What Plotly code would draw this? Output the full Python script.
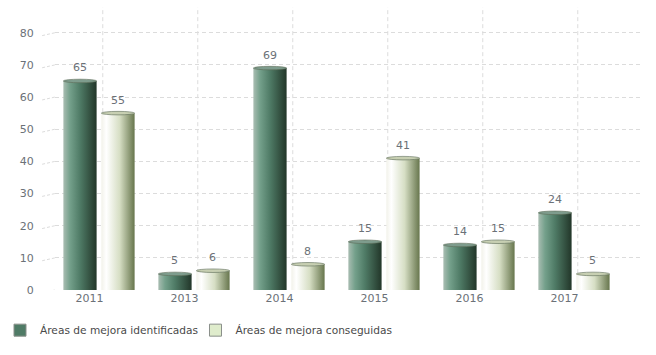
import plotly.graph_objects as go

years = ["2011", "2013", "2014", "2015", "2016", "2017"]
identificadas = [65, 5, 69, 15, 14, 24]
conseguidas = [55, 6, 8, 41, 15, 5]
series_names = ["Áreas de mejora identificadas", "Áreas de mejora conseguidas"]
y_ticks = [0, 10, 20, 30, 40, 50, 60, 70, 80]

dark_scale = [[0, "#a9bdb2"], [0.2, "#74a08b"], [0.5, "#4f7b66"], [1, "#223629"]]
light_scale = [[0, "#f2f2ea"], [0.15, "#ffffff"], [0.55, "#d6dec4"], [1, "#67764d"]]
cap_colors = ["#7e9c8d", "#c7cfb2"]
swatch_colors = ["#4f7b66", "#dfeccc"]

offset = 0.2
width = 0.35
label_color = "#6b7177"
grid_color = "#dcdcdc"
font_family = "DejaVu Sans, Verdana, sans-serif"

fig = go.Figure()
shapes = []
annotations = []

for s, (vals, scale) in enumerate([(identificadas, dark_scale), (conseguidas, light_scale)]):
    sign = -1 if s == 0 else 1
    for i, v in enumerate(vals):
        c = i + sign * offset
        x0, x1 = c - width / 2, c + width / 2
        fig.add_trace(go.Scatter(
            x=[x0, x1, x1, x0, x0], y=[0, 0, v, v, 0],
            fill="toself", mode="lines", line=dict(width=0),
            fillgradient=dict(type="horizontal", colorscale=scale),
            showlegend=False, hoverinfo="skip"))
        shapes.append(dict(type="circle", xref="x", yref="y",
                           x0=x0, x1=x1, y0=v - 0.55, y1=v + 0.55,
                           fillcolor=cap_colors[s], line=dict(width=0.6, color="#5d6b58")))
        annotations.append(dict(x=c, y=v, xref="x", yref="y", text=str(v), showarrow=False,
                                yshift=13, font=dict(size=11, color=label_color, family=font_family)))

legend_ids = ["legend", "legend2"]
for s in range(2):
    fig.add_trace(go.Bar(x=[None], y=[None], name=series_names[s], legend=legend_ids[s],
                         marker=dict(color=swatch_colors[s], line=dict(color="#8a8f8a", width=1))))

for i in range(len(years)):
    shapes.append(dict(type="line", xref="x", yref="paper", x0=i + 0.04, x1=i + 0.04,
                       y0=0.01, y1=1, line=dict(color=grid_color, width=1, dash="4px,3px"), layer="below"))

for t in y_ticks:
    shapes.append(dict(type="line", xref="paper", yref="y", x0=-0.022, x1=0, y0=t - 0.9, y1=t,
                       line=dict(color=grid_color, width=1, dash="3px,2px"), layer="below"))

legend_style = dict(orientation="h", xref="container", yref="container",
                    xanchor="left", y=0.07, yanchor="middle", bgcolor="rgba(0,0,0,0)",
                    font=dict(size=10.6, color="#4a4a4a", family=font_family), itemwidth=30)

fig.update_layout(
    width=656, height=355,
    margin=dict(l=55, r=16, t=7, b=65, autoexpand=False),
    plot_bgcolor="white", paper_bgcolor="white",
    shapes=shapes, annotations=annotations,
    showlegend=True,
    legend=dict(x=0.0, **legend_style),
    legend2=dict(x=0.298, **legend_style),
    xaxis=dict(range=[-0.463, 5.695], tickvals=[i - 0.1 for i in range(len(years))],
               ticktext=years, showgrid=False, zeroline=False, showline=False, automargin=False,
               tickfont=dict(size=11, color=label_color, family=font_family)),
    yaxis=dict(range=[0, 88], tickvals=y_ticks, showgrid=True, gridcolor=grid_color,
               griddash="4px,3px", zeroline=False, showline=False, automargin=False,
               ticks="outside", ticklen=18, tickcolor="rgba(0,0,0,0)",
               tickfont=dict(size=11, color=label_color, family=font_family)),
)

fig.write_html("out.html", config={"displayModeBar": False},
               post_script="document.body.style.margin='0px';")
